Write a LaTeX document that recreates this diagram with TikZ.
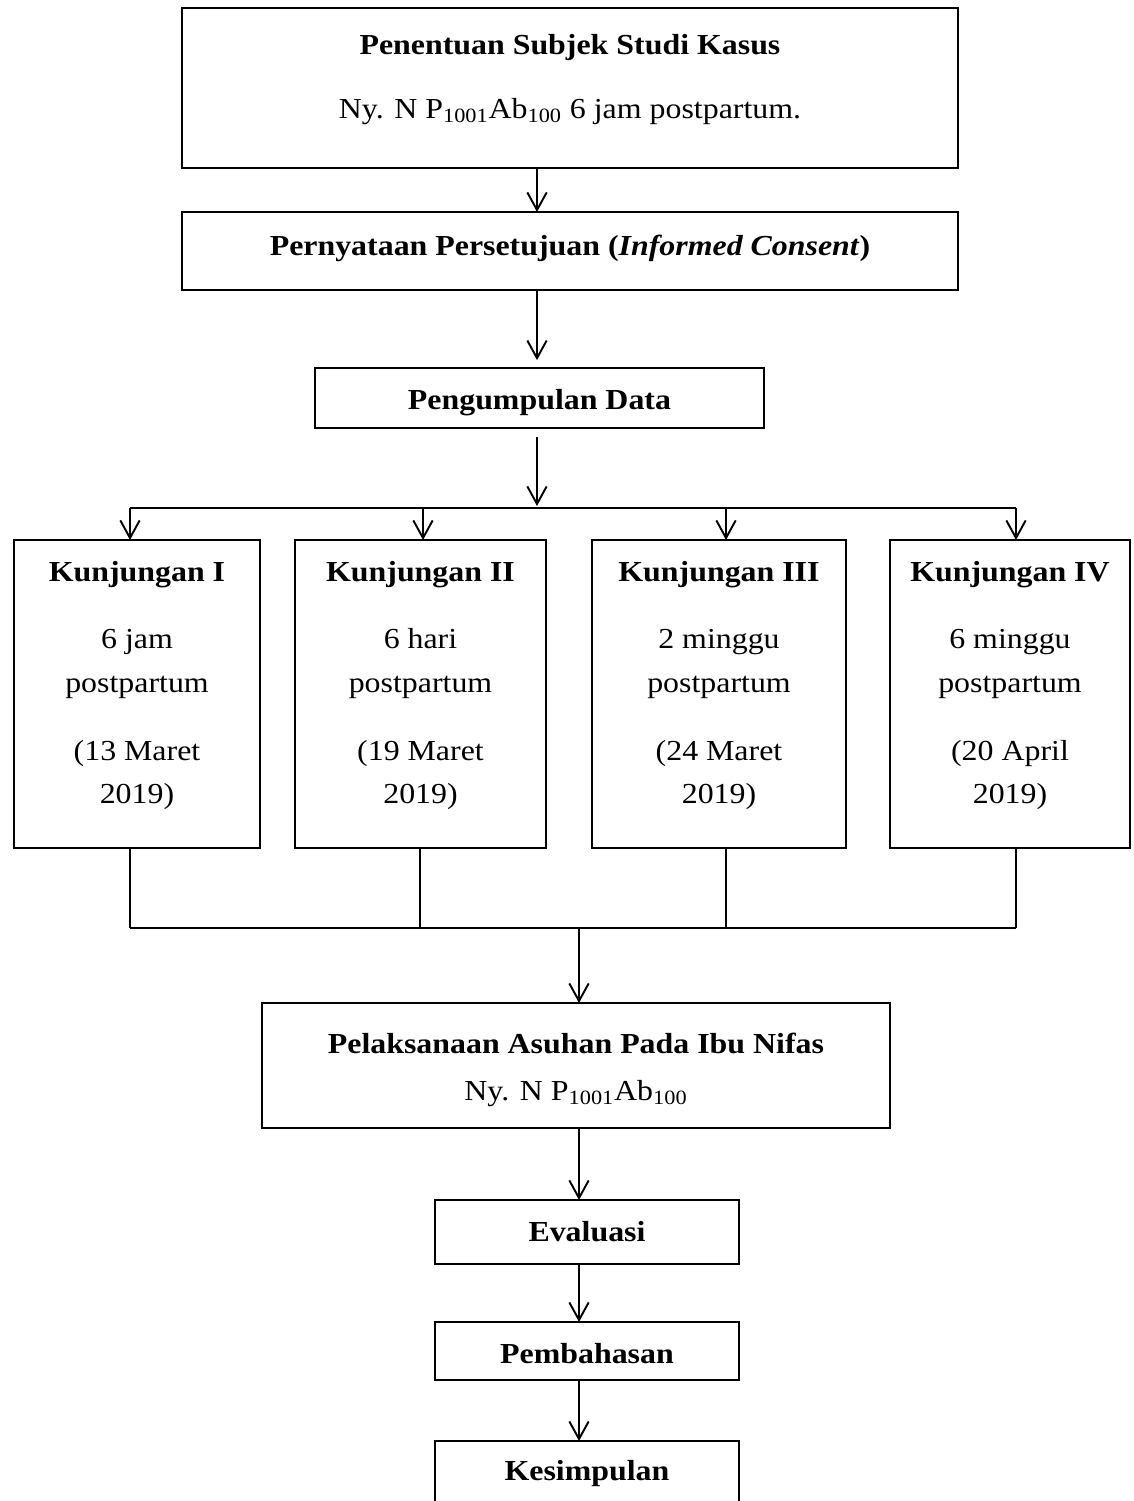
\documentclass[tikz,border=0pt]{standalone}
\usepackage{fontspec}
\setmainfont{Liberation Serif}[FakeStretch=1.1]
\usetikzlibrary{arrows.meta}

\def\px{0.02cm}
\tikzset{
  box/.style={draw, line width=1.1pt, inner sep=0pt, outer sep=0pt},
  txt/.style={anchor=base, inner sep=0pt, font=\fontsize{16.5}{20}\selectfont},
  head/.style={anchor=base, inner sep=0pt, font=\fontsize{16.5}{20}\selectfont\bfseries},
  arr/.style={line width=1.1pt, -{Straight Barb[length=10pt,width=11pt]}},
  link/.style={line width=1.1pt},
  thin link/.style={line width=0.6pt}
}

\begin{document}
\begin{tikzpicture}[x=\px, y=-\px]
    \useasboundingbox (0,0) rectangle (1133,1501);

    % boxes
    \node[box, minimum width=776*\px, minimum height=160*\px] (sub) at (570,88) {};
    \node[box, minimum width=776*\px, minimum height=78*\px] (consent) at (570,251) {};
    \node[box, minimum width=449*\px, minimum height=60*\px] (data) at (539.5,398) {};

    \node[box, minimum width=246*\px, minimum height=308*\px] (visit1) at (137,694) {};
    \node[box, minimum width=251*\px, minimum height=308*\px] (visit2) at (420.5,694) {};
    \node[box, minimum width=254*\px, minimum height=308*\px] (visit3) at (719,694) {};
    \node[box, minimum width=240*\px, minimum height=308*\px] (visit4) at (1010,694) {};

    \node[box, minimum width=628*\px, minimum height=125*\px] (care) at (576,1065.5) {};
    \node[box, minimum width=304*\px, minimum height=64*\px] (eval) at (587,1232) {};
    \node[box, minimum width=304*\px, minimum height=58*\px] (disc) at (587,1351) {};
    \node[box, minimum width=304*\px, minimum height=80*\px] (concl) at (587,1481) {};

    % texts
    \node[head] (subT) at (570,54) {Penentuan Subjek Studi Kasus};
    \node[txt] (subN) at (570,118) {Ny. N P\textsubscript{1001}Ab\textsubscript{100} 6 jam postpartum.};
    \node[head] (consentT) at (570,255) {Pernyataan Persetujuan (\textit{Informed Consent})};
    \node[head] (dataT) at (539.5,409) {Pengumpulan Data};

    \foreach \k/\x/\nm/\when/\day/\mon in {1/137/I/6 jam/13/Maret, 2/420.5/II/6 hari/19/Maret,
        3/719/III/2 minggu/24/Maret, 4/1010/IV/6 minggu/20/April}{
        \node[head] (k\k a) at (\x,581) {Kunjungan \nm};
        \node[txt] (k\k b) at (\x,648) {\when};
        \node[txt] (k\k c) at (\x,692) {postpartum};
        \node[txt] (k\k d) at (\x,760) {(\day{} \mon};
        \node[txt] (k\k e) at (\x,803) {2019)};
    }

    \node[head] (careT) at (576,1053) {Pelaksanaan Asuhan Pada Ibu Nifas};
    \node[txt] (careN) at (576,1100) {Ny. N P\textsubscript{1001}Ab\textsubscript{100}};
    \node[head] (evalT) at (587,1241) {Evaluasi};
    \node[head] (discT) at (587,1363) {Pembahasan};
    \node[head] (conclT) at (587,1480) {Kesimpulan};

    % top spine
    \coordinate (spine) at (537,0);
    \coordinate (split) at (537,506);
    \draw[arr] (sub.south -| spine) -- (consent.north -| spine);
    \draw[arr, shorten >=4.5pt] (consent.south -| spine) -- (data.north -| spine);
    \draw[arr, shorten <=5pt] (data.south -| spine) -- (split);

    % fan out
    \coordinate (in1) at (130,508);
    \coordinate (in2) at (423,508);
    \coordinate (in3) at (726,508);
    \coordinate (in4) at (1016,508);
    \draw[link] (in1) -- (in4);
    \foreach \k in {1,...,4}
        \draw[arr] (in\k) -- (in\k |- visit\k.north);

    % fan in
    \coordinate (out1) at (130,928);
    \coordinate (out2) at (420,928);
    \coordinate (out3) at (726,928);
    \coordinate (out4) at (1016,928);
    \foreach \k in {1,...,4}
        \draw[thin link] (out\k |- visit\k.south) -- (out\k);
    \draw[link] (out1) -- (out4);

    % bottom spine
    \coordinate (spine2) at (579,928);
    \draw[arr] (spine2) -- (spine2 |- care.north);
    \draw[arr] (care.south -| spine2) -- (eval.north -| spine2);
    \draw[arr] (eval.south -| spine2) -- (disc.north -| spine2);
    \draw[arr] (disc.south -| spine2) -- (concl.north -| spine2);

\end{tikzpicture}
\end{document}
